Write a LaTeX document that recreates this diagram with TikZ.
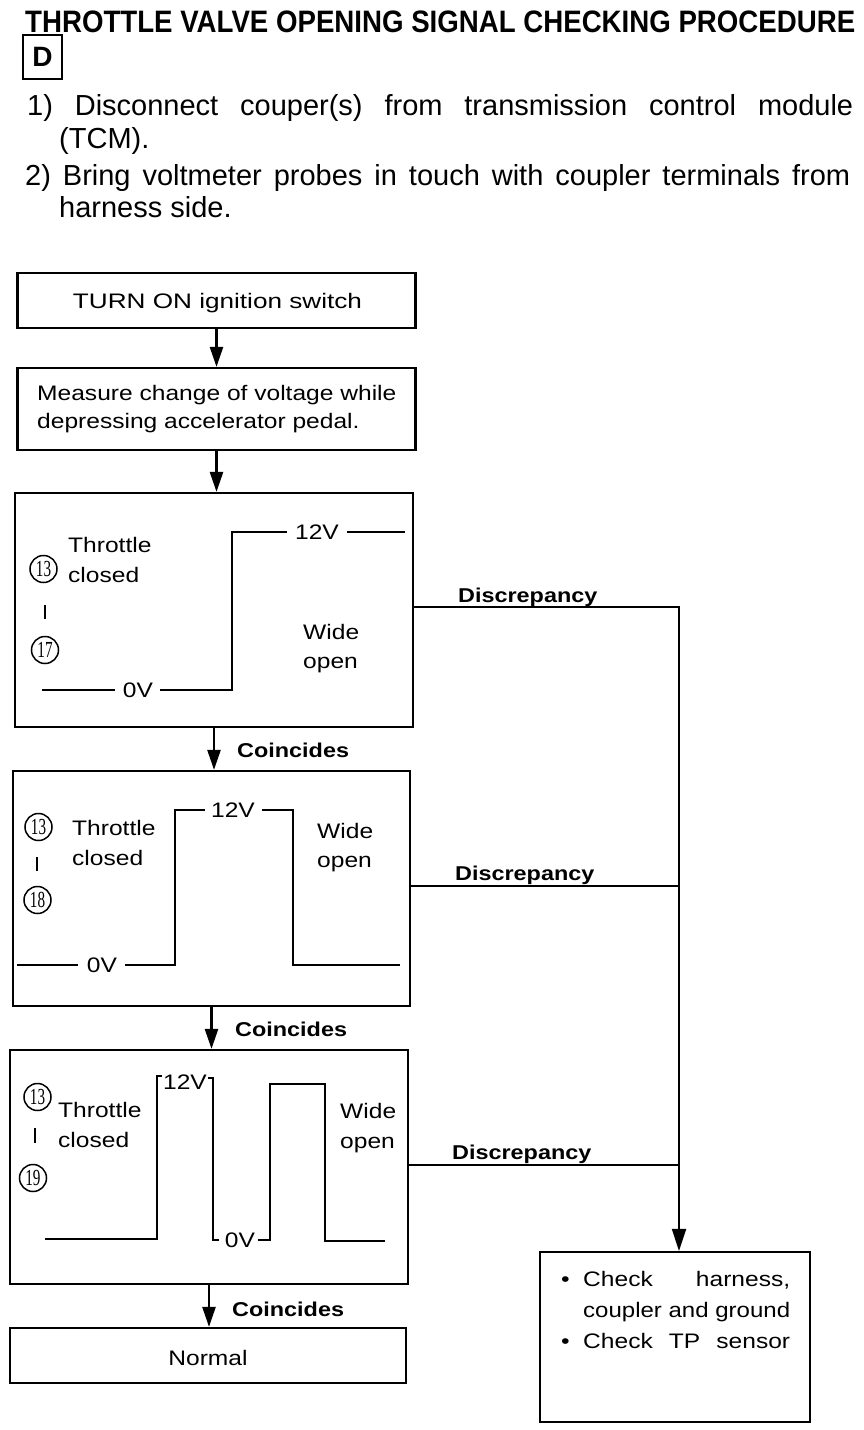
\documentclass[tikz,border=0pt]{standalone}
\usepackage{fontspec}
\setmainfont{Liberation Sans}
\newfontfamily\bodyf{Liberation Sans}[FakeStretch=1.17]
\newfontfamily\numf{Liberation Serif}
\usetikzlibrary{arrows.meta}
\begin{document}
\begin{tikzpicture}[x=1pt,y=-1pt,
  box/.style={draw, rectangle, line width=2.2pt, inner sep=0pt},
  arr/.style={line width=2.4pt, -{Triangle[length=20pt,width=13pt]}},
  conn/.style={line width=2pt},
  wave/.style={line width=2.8pt, line join=miter},
  txt/.style={font=\bodyf\fontsize{21}{28}\selectfont, inner sep=0pt, anchor=base west},
  vlab/.style={font=\bodyf\fontsize{21}{28}\selectfont, inner sep=0pt, anchor=center},
  lab/.style={font=\bodyf\bfseries\fontsize{20}{24}\selectfont, inner sep=0pt, anchor=base west},
  instr/.style={font=\fontsize{29}{29}\selectfont, inner sep=0pt, anchor=base west},
  circ/.style={draw, circle, line width=1.5pt, minimum size=27pt, inner sep=0pt, font=\numf\fontsize{23}{23}\selectfont},
  tick/.style={line width=2pt}
]
\useasboundingbox (0,0) rectangle (864,1430);

% heading
\node[inner sep=0pt, anchor=base west] (title) at (25,32)
  {\resizebox{830pt}{\height}{\bfseries\fontsize{31}{31}\selectfont THROTTLE VALVE OPENING SIGNAL CHECKING PROCEDURE}};
\node[box, minimum width=39pt, minimum height=44pt, font=\bfseries\fontsize{28}{28}\selectfont] (dbox) at (42.5,57) {D};
\node[instr] (l1) at (27,115) {\makebox[826pt][s]{1) Disconnect couper(s) from transmission control module}};
\node[instr] (l1b) at (59,148) {(TCM).};
\node[instr] (l2) at (25,185) {\makebox[825pt][s]{2) Bring voltmeter probes in touch with coupler terminals from}};
\node[instr] (l2b) at (59,217) {harness side.};

% boxes
\node[box, minimum width=398pt, minimum height=55pt] (b1) at (216.5,300.5) {};
\node[box, minimum width=398pt, minimum height=82pt] (b2) at (216.5,409) {};
\node[box, minimum width=398pt, minimum height=234pt] (b3) at (214,610) {};
\node[box, minimum width=397pt, minimum height=235pt] (b4) at (211.5,888.5) {};
\node[box, minimum width=398pt, minimum height=234pt] (b5) at (209,1167) {};
\node[box, minimum width=396pt, minimum height=55pt] (b7) at (208,1355.5) {};
\node[box, minimum width=270pt, minimum height=170pt] (b6) at (675,1337) {};

% box texts
\node[vlab, anchor=base] (t1) at (217.5,308) {\resizebox{289pt}{\height}{TURN ON ignition switch}};
\node[txt] (t2a) at (37,400) {Measure change of voltage while};
\node[txt] (t2b) at (37,428) {depressing accelerator pedal.};
\node[vlab, anchor=base] (t7) at (208,1365) {Normal};
\node[txt] (t6a) at (561,1286) {\makebox[22pt][l]{•}\makebox[207pt][s]{Check harness,}};
\node[txt] (t6b) at (583,1317) {\resizebox{207pt}{\height}{coupler and ground}};
\node[txt] (t6c) at (561,1348) {\makebox[22pt][l]{•}\makebox[207pt][s]{Check TP sensor}};

% box 3
\node[txt] (th3) at (68,552) {Throttle};
\node[txt] (cl3) at (68,582) {closed};
\node[txt] (wi3) at (303,639) {Wide};
\node[txt] (op3) at (303,668) {open};
\node[circ] (c3a) at (43.5,569) {\scalebox{0.66}[1]{13}};
\node[circ] (c3b) at (45,650) {\scalebox{0.66}[1]{17}};
\draw[tick] (45,605) -- (45,619);
\draw[wave] (42,690) -- (115,690);
\node[vlab] (v3a) at (138,690) {0V};
\draw[wave] (160,690) -- (232,690) -- (232,532) -- (287,532);
\node[vlab] (v3b) at (317,532) {12V};
\draw[wave] (347,532) -- (405,532);

% box 4
\node[txt] (th4) at (72,835) {Throttle};
\node[txt] (cl4) at (72,865) {closed};
\node[txt] (wi4) at (317,838) {Wide};
\node[txt] (op4) at (317,867) {open};
\node[circ] (c4a) at (38.5,827) {\scalebox{0.66}[1]{13}};
\node[circ] (c4b) at (37.5,900) {\scalebox{0.66}[1]{18}};
\draw[tick] (37,857) -- (37,871);
\draw[wave] (17,965) -- (78,965);
\node[vlab] (v4a) at (102,965) {0V};
\draw[wave] (125,965) -- (175,965) -- (175,810) -- (205,810);
\node[vlab] (v4b) at (233,810) {12V};
\draw[wave] (262,810) -- (293,810) -- (293,965) -- (400,965);

% box 5
\node[txt] (th5) at (58,1117) {Throttle};
\node[txt] (cl5) at (58,1147) {closed};
\node[txt] (wi5) at (340,1118) {Wide};
\node[txt] (op5) at (340,1148) {open};
\node[circ] (c5a) at (37.5,1097) {\scalebox{0.66}[1]{13}};
\node[circ] (c5b) at (33,1178) {\scalebox{0.66}[1]{19}};
\draw[tick] (35,1128) -- (35,1143);
\draw[wave] (45,1239) -- (157,1239) -- (157,1076) -- (162,1076);
\node[vlab] (v5a) at (185,1082) {12V};
\draw[wave] (208,1078) -- (213,1078) -- (213,1240) -- (219,1240);
\node[vlab] (v5b) at (240,1240) {0V};
\draw[wave] (258,1240) -- (270,1240) -- (270,1084) -- (325,1084) -- (325,1241) -- (385,1241);

% main flow arrows
\draw[arr] (b1.south) -- (b2.north);
\draw[arr] (b2.south) -- (b2.south |- b3.north);
\draw[arr] (b3.south) -- (b3.south |- b4.north);
\draw[arr] (b4.south) -- (b4.south |- b5.north);
\draw[arr] (b5.south) -- (b5.south |- b7.north);
\node[lab] (co1) at (237,757) {Coincides};
\node[lab] (co2) at (235,1036) {Coincides};
\node[lab] (co3) at (232,1316) {Coincides};

% discrepancy branch
\coordinate (r1) at (679,607);
\coordinate (r2) at (679,886);
\coordinate (r3) at (679,1165);
\draw[conn] (b3.east |- r1) -- (r1) -- (r3);
\draw[conn] (b4.east |- r2) -- (r2);
\draw[conn] (b5.east |- r3) -- (r3);
\draw[line width=2pt, -{Triangle[length=22pt,width=14pt]}] (r3) -- (r3 |- b6.north);
\node[lab] (d1) at (458,602) {Discrepancy};
\node[lab] (d2) at (455,880) {Discrepancy};
\node[lab] (d3) at (452,1159) {Discrepancy};
\end{tikzpicture}
\end{document}
